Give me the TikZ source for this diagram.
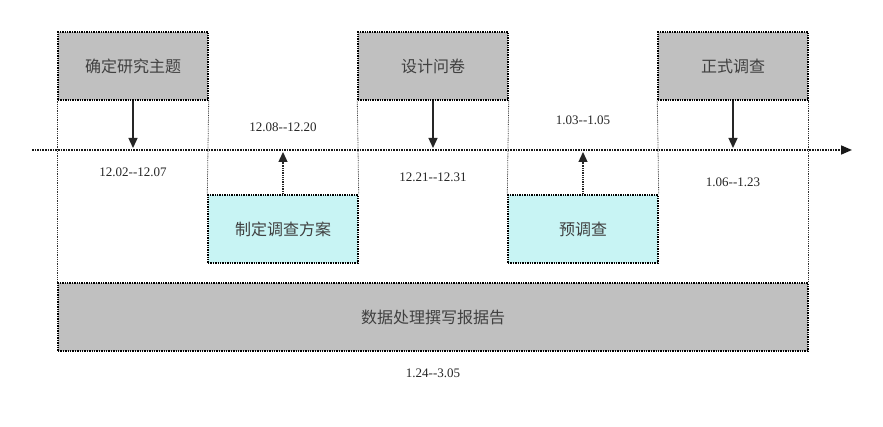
\documentclass[tikz,border=0pt]{standalone}
\usepackage{fontspec}
\setmainfont{Liberation Serif}
\newfontfamily\cjk{Noto Sans CJK SC}
\usetikzlibrary{arrows.meta}
\definecolor{boxgray}{HTML}{C0C0C0}
\definecolor{boxcyan}{HTML}{C8F4F4}
\tikzset{
  graybox/.style={draw=black, densely dotted, line width=1.4pt, fill=boxgray, minimum width=150pt, minimum height=68pt, font=\cjk\fontsize{16}{19}\selectfont, text=black!75},
  cyanbox/.style={graybox, fill=boxcyan},
  guide/.style={densely dotted, black!80, line width=0.8pt},
  down/.style={line width=1.3pt, black!85, -{Triangle[width=9pt,length=10pt]}},
  up/.style={line width=1.3pt, densely dotted, black!85, -{Triangle[width=9pt,length=10pt]}},
  datelbl/.style={font=\fontsize{13}{15}\selectfont, text=black!85}
}
\begin{document}
\begin{tikzpicture}[x=1pt,y=-1pt]
\useasboundingbox (0,0) rectangle (883,427);
\node[graybox] (a) at (133,66) {确定研究主题};
\node[graybox] (c) at (433,66) {设计问卷};
\node[graybox] (e) at (733,66) {正式调查};
\node[cyanbox] (b) at (283,229) {制定调查方案};
\node[cyanbox] (d) at (583,229) {预调查};
\node[graybox, minimum width=750pt] (f) at (433,317) {数据处理撰写报据告};
\coordinate (t0) at (32,150);
\coordinate (t1) at (852,150);
\draw[line width=1.6pt, densely dotted, black!90, -{Triangle[width=9pt,length=11pt]}] (t0) -- (t1);
\draw[guide] (a.south west) -- (f.north west);
\draw[guide] (a.south east) -- (b.north west);
\draw[guide] (c.south west) -- (b.north east);
\draw[guide] (c.south east) -- (d.north west);
\draw[guide] (e.south west) -- (d.north east);
\draw[guide] (e.south east) -- (f.north east);
\draw[down] (a.south) -- (133,148);
\draw[down] (c.south) -- (433,148);
\draw[down] (e.south) -- (733,148);
\draw[up] (b.north) -- (283,152);
\draw[up] (d.north) -- (583,152);
\node[datelbl] (l1) at (133,172) {12.02-{}-12.07};
\node[datelbl] (l2) at (283,127) {12.08-{}-12.20};
\node[datelbl] (l3) at (433,177) {12.21-{}-12.31};
\node[datelbl] (l4) at (583,120) {1.03-{}-1.05};
\node[datelbl] (l5) at (733,182) {1.06-{}-1.23};
\node[datelbl] (l6) at (433,373) {1.24-{}-3.05};
\end{tikzpicture}
\end{document}
